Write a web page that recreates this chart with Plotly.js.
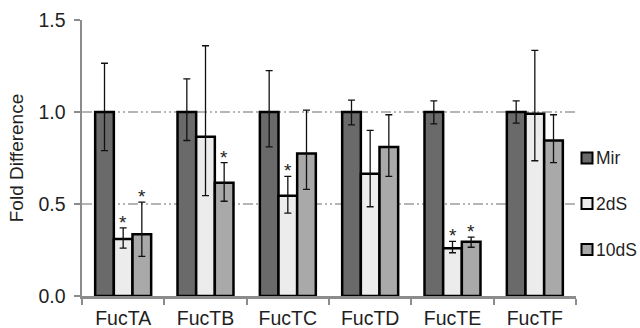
<!DOCTYPE html>
<html><head><meta charset="utf-8">
<script src="https://cdn.plot.ly/plotly-3.0.1.min.js"></script>
<style>html,body{margin:0;padding:0;background:#fff}#chart{width:640px;height:328px}</style>
</head><body><div id="chart"></div>
<script>
const categories = ["FucTA","FucTB","FucTC","FucTD","FucTE","FucTF"];
const seriesNames = ["Mir","2dS","10dS"];
const mirValues  = [1.00, 1.00, 1.00, 1.00, 1.00, 1.00];
const mirErrUp   = [0.265, 0.18, 0.225, 0.065, 0.06, 0.06];
const mirErrDown = [0.21, 0.155, 0.19, 0.07, 0.065, 0.06];
const s2Values   = [0.31, 0.865, 0.545, 0.665, 0.26, 0.99];
const s2ErrUp    = [0.06, 0.495, 0.105, 0.235, 0.037, 0.345];
const s2ErrDown  = [0.05, 0.32, 0.095, 0.18, 0.025, 0.255];
const s10Values  = [0.335, 0.615, 0.775, 0.81, 0.295, 0.845];
const s10ErrUp   = [0.175, 0.11, 0.235, 0.175, 0.025, 0.14];
const s10ErrDown = [0.12, 0.10, 0.195, 0.16, 0.03, 0.12];
const s2Star     = [true, false, true, false, true, false];
const s10Star    = [true, true, false, false, true, false];

const colors = ["#6a6a6a", "#ececec", "#a9a9a9"];
const vals = [mirValues, s2Values, s10Values];
const ups = [mirErrUp, s2ErrUp, s10ErrUp];
const downs = [mirErrDown, s2ErrDown, s10ErrDown];
const stars = [null, s2Star, s10Star];

const FONT = 'Liberation Sans, Arial, sans-serif';
const TXT = '#1f1f1f';
const M = {l:82, r:64, t:20, b:32};
const W = 640, H = 328;
const bargap = 0.32;
const plotW = W - M.l - M.r;
const plotH = H - M.t - M.b;
const barW = plotW / categories.length * (1 - bargap) / 3;

const traces = seriesNames.map((name, i) => ({
  type: 'bar', name: name, x: categories, y: vals[i],
  showlegend: false,
  marker: {color: colors[i], line: {color: '#000', width: 2.5}},
  error_y: {type: 'data', symmetric: false, array: ups[i], arrayminus: downs[i],
            color: '#111', thickness: 1.3, width: 3.5}
}));

const annotations = [];
const shapes = [];
stars.forEach((arr, i) => {
  if (!arr) return;
  arr.forEach((s, k) => {
    if (!s) return;
    annotations.push({
      x: categories[k], y: vals[i][k] + ups[i][k], xref: 'x', yref: 'y',
      text: '*', showarrow: false, xshift: (i - 1) * barW, yshift: -7,
      yanchor: 'bottom', font: {size: 19, color: '#222', family: FONT}
    });
  });
});

// legend (drawn manually to match spacing of the reference)
const legX0 = (581.5 - M.l) / plotW, legX1 = (592.5 - M.l) / plotW;
const legTextX = (594 - M.l) / plotW;
const legYpx = [158, 203.5, 249.5];
seriesNames.forEach((name, i) => {
  const yc = (H - M.b - legYpx[i]) / plotH;
  const hh = 5.5 / plotH;
  shapes.push({type: 'rect', xref: 'paper', yref: 'paper', x0: legX0, x1: legX1,
               y0: yc - hh, y1: yc + hh, fillcolor: colors[i], line: {color: '#000', width: 2}});
  annotations.push({xref: 'paper', yref: 'paper', x: legTextX, y: yc, xanchor: 'left',
                    yanchor: 'middle', text: name, showarrow: false,
                    font: {size: 17.5, color: TXT, family: FONT}});
});

const layout = {
  width: W, height: H, margin: M,
  paper_bgcolor: '#fff', plot_bgcolor: '#fff',
  font: {family: FONT, color: TXT},
  barmode: 'group', bargap: bargap, bargroupgap: 0,
  showlegend: false,
  xaxis: {type: 'category', showline: true, linecolor: '#8c8c8c', linewidth: 2.5,
          ticks: 'outside', tickson: 'boundaries', ticklen: 6, tickcolor: '#8c8c8c', tickwidth: 2,
          ticklabelstandoff: 3,
          showgrid: false, tickfont: {size: 19.5, color: TXT}},
  yaxis: {range: [0, 1.5], dtick: 0.5, tickformat: '.1f', showline: true,
          linecolor: '#8c8c8c', linewidth: 2.5, ticks: 'outside', ticklen: 6,
          tickcolor: '#8c8c8c', tickwidth: 2, showgrid: true, gridcolor: '#b5b5b5',
          ticklabelstandoff: 4,
          gridwidth: 2.2, griddash: '10px,3px,2px,3px,2px,3px', zeroline: false,
          tickfont: {size: 19.5, color: TXT},
          title: {text: 'Fold Difference', font: {size: 19, color: TXT}, standoff: 10}},
  annotations: annotations,
  shapes: shapes
};

Plotly.newPlot('chart', traces, layout, {displayModeBar: false, staticPlot: true});
</script>
</body></html>
